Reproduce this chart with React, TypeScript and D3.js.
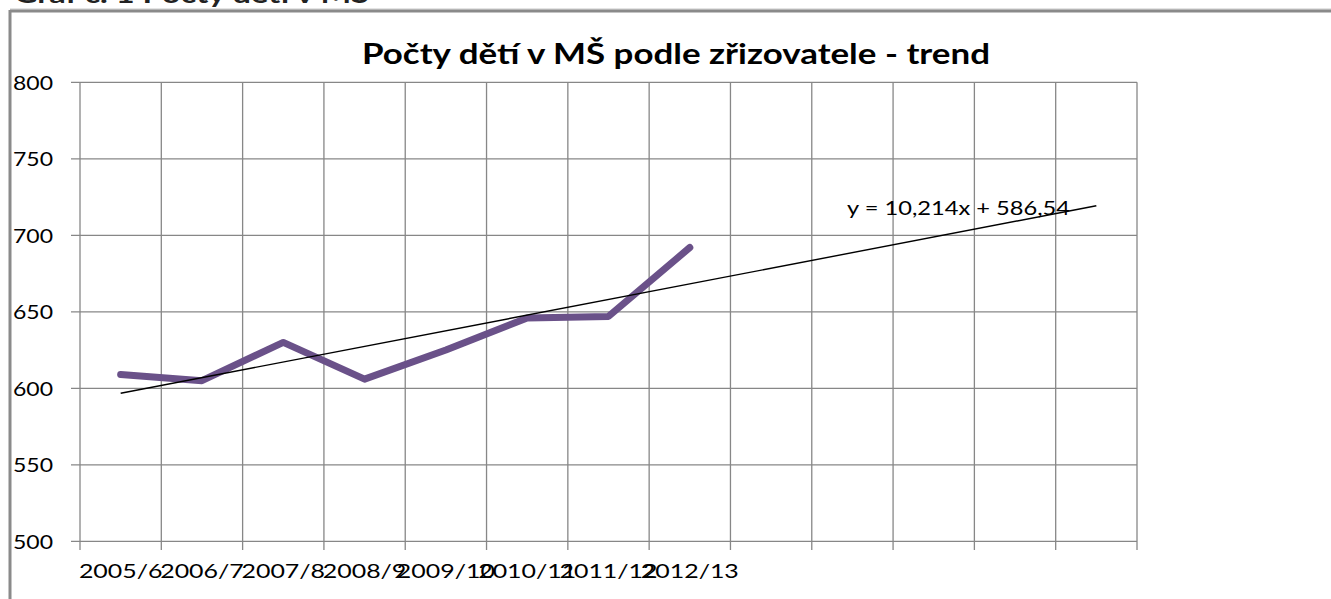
import React, { useEffect } from "react";
import * as d3 from "d3";

// ---- data ----
const categories: string[] = ["2005/6", "2006/7", "2007/8", "2008/9", "2009/10", "2010/11", "2011/12", "2012/13"];
const childCounts: number[] = [609, 605, 630, 606, 625, 646, 647, 692];
const forecastPeriods = 5;
const trendSlope = 10.214;
const trendIntercept = 586.54;
const yTicks: number[] = [500, 550, 600, 650, 700, 750, 800];
const titleText = "Počty dětí v MŠ podle zřizovatele  - trend";
const equationText = "y = 10,214x + 586,54";
const headerText = "Graf č. 1 Počty dětí v MŠ";

const W = 1331;
const H = 599;
const FONT = "Lato, 'Open Sans', sans-serif";

export default function App() {
  useEffect(() => {
    document.body.style.margin = "0";
  }, []);

  const slots = d3.range(categories.length + forecastPeriods).map((i) => `slot${i}`);
  const x = d3.scaleBand<string>().domain(slots).range([80, 1137]).padding(0);
  const y = d3.scaleLinear().domain([500, 800]).range([541.3, 82.3]);
  const cx = (i: number) => (x(slots[i]) as number) + x.bandwidth() / 2;

  const line = d3
    .line<number>()
    .x((_, i) => cx(i))
    .y((d) => y(d));

  const trendPts: [number, number][] = [1, slots.length].map((n) => [cx(n - 1), y(trendSlope * n + trendIntercept)]);

  const gridColor = "#878787";
  const charW = 14.5;
  const labelLen = (s: string) => {
    const slashes = s.split("/").length - 1;
    return charW * (s.length - slashes + 0.76 * slashes);
  };

  const boundaries = d3.range(slots.length + 1).map((i) => 80 + i * x.bandwidth());

  return (
    <svg width={W} height={H} style={{ position: "fixed", left: 0, top: 0, background: "#fff" }} fontFamily={FONT}>
      <rect x={0} y={0} width={W} height={H} fill="#fff" />
      {/* header text of the page above, cut off at the top edge as in the source */}
      <text x={14} y={3} fontSize={24} fontWeight="bold" fill="#222" textLength={355} lengthAdjust="spacingAndGlyphs">
        {headerText}
      </text>
      {/* outer frame */}
      <line x1={10} x2={W} y1={9} y2={9} stroke="#c8c8c8" strokeWidth={1} />
      <line x1={10} x2={W} y1={11} y2={11} stroke="#8a8a8a" strokeWidth={3} />
      <line x1={10} x2={10} y1={10} y2={H} stroke="#8a8a8a" strokeWidth={3} />

      {/* title */}
      <text x={362} y={64} fontSize={29} fontWeight="bold" fill="#000" textLength={628} lengthAdjust="spacingAndGlyphs">
        {titleText}
      </text>

      {/* horizontal gridlines */}
      {yTicks.map((t) => (
        <g key={`h${t}`}>
          <line x1={71} x2={1137} y1={y(t)} y2={y(t)} stroke={gridColor} strokeWidth={1.3} />
          <text x={13} y={y(t)} dy="0.36em" fontSize={20} fill="#000" textLength={40} lengthAdjust="spacingAndGlyphs">
            {t}
          </text>
        </g>
      ))}

      {/* vertical gridlines */}
      {boundaries.map((bx, i) => (
        <line key={`v${i}`} x1={bx} x2={bx} y1={y(800)} y2={550} stroke={gridColor} strokeWidth={1.3} />
      ))}

      {/* x labels */}
      {categories.map((c, i) => (
        <text
          key={c}
          x={cx(i)}
          y={578}
          textAnchor="middle"
          fontSize={20}
          fill="#000"
          textLength={labelLen(c)}
          lengthAdjust="spacingAndGlyphs"
        >
          {c}
        </text>
      ))}

      {/* data line */}
      <path
        d={line(childCounts) as string}
        fill="none"
        stroke="#6a5189"
        strokeWidth={7}
        strokeLinecap="round"
        strokeLinejoin="round"
      />

      {/* trend line */}
      <line
        x1={trendPts[0][0]}
        y1={trendPts[0][1]}
        x2={trendPts[1][0]}
        y2={trendPts[1][1]}
        stroke="#000"
        strokeWidth={1.4}
      />

      {/* equation */}
      <text x={847} y={215} fontSize={20} fill="#000" textLength={223} lengthAdjust="spacingAndGlyphs">
        {equationText}
      </text>
    </svg>
  );
}
